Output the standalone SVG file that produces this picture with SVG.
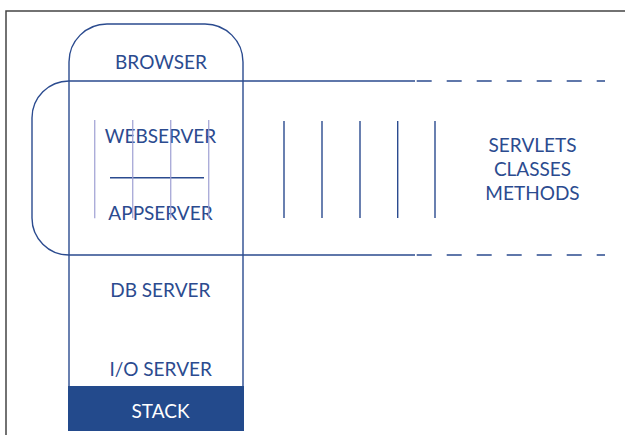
<svg xmlns="http://www.w3.org/2000/svg" width="625" height="435" viewBox="0 0 625 435">
<style>
.ln{fill:none;stroke:#2b4b8f;stroke-width:1.4}
.lv{fill:none;stroke:#9e9fd2;stroke-width:1.4;opacity:0.85}
.t{font-family:Lato,"Open Sans",sans-serif;font-size:19px;fill:#2b4b8f;text-anchor:middle}
.w{fill:#ffffff}
</style>
<rect width="625" height="435" fill="#ffffff"/>
<path d="M6,435 V11 H625" fill="none" stroke="#444444" stroke-width="1.5"/>
<g id="stack">
<path class="ln" d="M69,387 V62 A38,38 0 0 1 107,24 H205 A38,38 0 0 1 243,62 V387"/>
<rect x="68" y="386" width="176" height="45" fill="#234a8c"/>
<text class="t w" x="160.5" y="418">STACK</text>
</g>
<g id="browser"><text class="t" x="161" y="69">BROWSER</text></g>
<g id="webserver"><text class="t" x="160.5" y="143">WEBSERVER</text></g>
<g id="appserver"><text class="t" x="160.5" y="219.5">APPSERVER</text></g>
<g id="dbserver"><text class="t" x="160.3" y="297">DB SERVER</text></g>
<g id="ioserver"><text class="t" x="160.7" y="376">I/O SERVER</text></g>
<g id="servlets">
<text class="t" x="532.5" y="152">SERVLETS</text>
<text class="t" x="532.5" y="176">CLASSES</text>
<text class="t" x="532.5" y="199.5">METHODS</text>
</g>
<g id="connectors">
<path class="ln" d="M415,81 H69 A37,37 0 0 0 32,118 V218 A37,37 0 0 0 69,255 H415"/>
<path class="ln" d="M416.7,81 H605 M416.7,255 H605" stroke-dasharray="15 15"/>
<line class="ln" x1="110" y1="177.7" x2="204" y2="177.7"/>
<path class="ln" d="M284,121 V218 M322,121 V218 M360,121 V218 M397.7,121 V218 M435,121 V218"/>
<path class="lv" d="M94.7,120 V218.3 M132.7,120 V218.3 M170.7,120 V218.3 M208.7,120 V218.3"/>
</g>
</svg>
